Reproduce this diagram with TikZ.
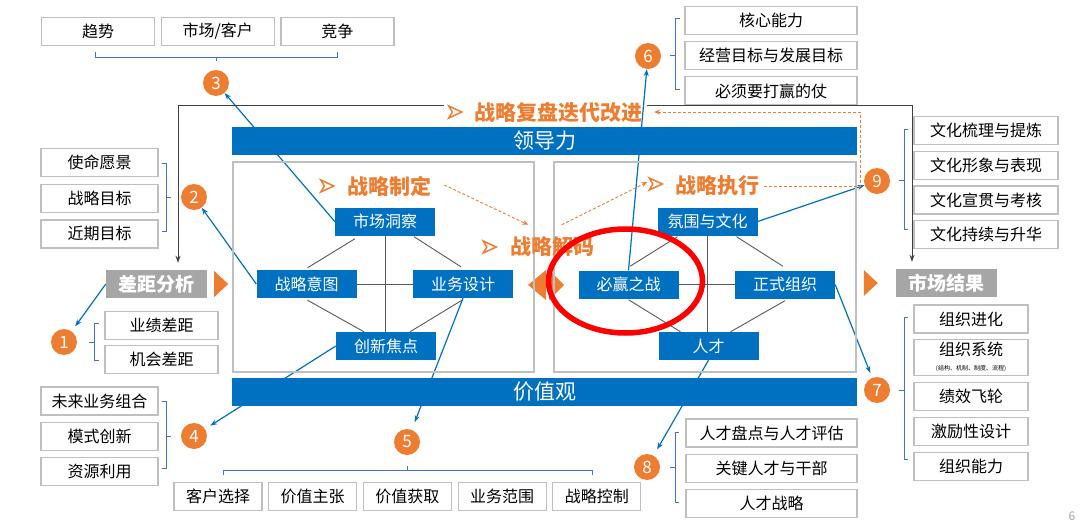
\documentclass[tikz,border=0pt]{standalone}
\usepackage{fontspec}
\setmainfont{Noto Sans CJK SC}
\usetikzlibrary{arrows.meta, positioning, calc, backgrounds}
\definecolor{ppBlue}{HTML}{0070C0}
\definecolor{ppOrange}{HTML}{ED7D31}
\definecolor{ppGray}{HTML}{A6A6A6}
\definecolor{boxLine}{HTML}{BFBFBF}
\definecolor{brkBlue}{HTML}{4472C4}
\definecolor{lineGray}{HTML}{595959}
\definecolor{fbGray}{HTML}{404040}

\begin{document}
\begin{tikzpicture}[x=1pt, y=-1pt, node distance=6pt,
    every node/.style={font=\fontsize{16}{19}\selectfont},
    lbox/.style={draw=boxLine, line width=1.2, fill=white, minimum height=28, inner sep=0},
    bbox/.style={fill=ppBlue, text=white, minimum width=100, minimum height=28, inner sep=0},
    bar/.style={fill=ppBlue, text=white, minimum width=625, minimum height=28, inner sep=0,
      font=\fontsize{21}{24}\selectfont},
    tag/.style={fill=ppGray, text=white, minimum width=101, minimum height=28, inner sep=0,
      font=\bfseries\fontsize{19}{22}\selectfont},
    hdr/.style={text=ppOrange, inner sep=0, font=\bfseries\fontsize{21}{24}\selectfont},
    num/.style={circle, fill=ppOrange, text=white, minimum size=26, inner sep=0,
      font=\fontsize{17}{17}\selectfont},
    panel/.style={draw=boxLine, line width=1.2},
    rib/.style={draw=lineGray, line width=0.9},
    brk/.style={draw=brkBlue, line width=0.8},
    link/.style={draw=ppBlue, line width=1.2, -{Stealth[length=7,width=5]}},
    fb/.style={draw=fbGray, line width=1, -{Stealth[length=7,width=5]}},
    flow/.style={draw=ppOrange, line width=0.9, dash pattern=on 3pt off 2pt,
      -{Stealth[length=6,width=5]}},
    chev/.pic={\draw[ppOrange, line width=1.5, fill=white, line join=miter]
      (-6,-6) -- (7,0) -- (-6,6) -- (-2.5,0) -- cycle;}]
  \useasboundingbox (0,0) rectangle (1080,527);

  % middle triangles and the two panels
  \fill[ppOrange] (546,270) -- (528,285) -- (546,300) -- cycle;
  \fill[ppOrange] (549,270) -- (564,285) -- (549,300) -- cycle;
  \draw[panel] (233,162) rectangle (534,372);
  \draw[panel] (554,162) rectangle (856,372);

  \node[bar] (lead) at (544.5,141) {领导力};
  \node[bar] (vals) at (544.5,392) {价值观};

  % strategy formulation
  \node[bbox] (mkt) at (385,221.5) {市场洞察};
  \node[bbox] (intent) at (306.5,284) {战略意图};
  \node[bbox] (biz) at (463,284) {业务设计};
  \node[bbox] (innov) at (386,346) {创新焦点};
  \draw[rib] ($(mkt.south)+(-30,3)$) -- ($(intent.north)+(1,-2)$);
  \draw[rib] ($(mkt.south)+(29,1)$) -- ($(biz.north)+(-2,-3)$);
  \draw[rib] (mkt.south) -- (mkt.south |- innov.north);
  \draw[rib] (intent.east) -- (biz.west);
  \draw[rib] ($(intent.south)+(1,2)$) -- ($(innov.north)+(-22,0)$);
  \draw[rib] ($(biz.south)+(-1,2)$) -- ($(innov.north)+(24,0)$);

  % strategy execution
  \node[bbox] (culture) at (707.5,221.5) {氛围与文化};
  \node[bbox] (win) at (628.5,284.5) {必赢之战};
  \node[bbox] (org) at (785,284.5) {正式组织};
  \node[bbox] (talent) at (708.5,346) {人才};
  \draw[rib] ($(culture.south)+(-30,1)$) -- ($(win.north)+(1.5,-4)$);
  \draw[rib] ($(culture.south)+(29,1)$) -- ($(org.north)+(-2,-4)$);
  \draw[rib] (culture.south) -- (culture.south |- talent.north);
  \draw[rib] (win.east) -- (org.west);
  \draw[rib] ($(win.south)+(0,1)$) -- ($(talent.north)+(-28,0)$);
  \draw[rib] ($(org.south)+(0,2)$) -- ($(talent.north)+(22,0)$);

  % orange headings
  \node[hdr] (hdef) at (389,186) {战略制定};
  \node[hdr] (hexe) at (717.5,186) {战略执行};
  \node[hdr] (hdec) at (552.5,247) {战略解码};
  \node[hdr] (hrev) at (558,112) {战略复盘迭代改进};
  \pic at ($(hdef.west)+(-20,0)$) {chev};
  \pic at ($(hexe.west)+(-20,-2)$) {chev};
  \pic at ($(hdec.west)+(-21,0)$) {chev};
  \pic at ($(hrev.west)+(-19,0)$) {chev};
  \draw[flow] ($(hdef.east)+(13,-1)$) -- ($(hdec.north west)+(18,-12)$);
  \draw[flow] ($(hdec.north east)+(-33,-12)$) -- ($(hexe.west)+(-28,-4)$);
  \draw[flow] ($(hexe.east)+(4,0)$) -| ($(hrev.east)+(218,0)$) -- ($(hrev.east)+(12,0)$);

  % gap and result
  \node[tag] (gap) at (156.5,284) {差距分析};
  \node[tag] (result) at (946.5,283) {市场结果};
  \fill[ppOrange] ($(gap.east)+(7,-13)$) -- ++(14,13) -- ++(-14,13) -- cycle;
  \fill[ppOrange] ($(result.west)+(-32,-13)$) -- ++(14,13) -- ++(-14,13) -- cycle;
  \draw[fb] ($(hrev.west)+(-30,-6)$) -| ($(gap.north)+(21.5,-7)$);
  \draw[fb] ($(hrev.east)+(5,-6)$) -| ($(result.north)+(-34.5,-7)$);

  % numbered markers
  \node[num] (c1) at (64,342) {1};
  \node[num] (c2) at (194,197) {2};
  \node[num] (c3) at (216,83) {3};
  \node[num] (c4) at (194,436) {4};
  \node[num] (c5) at (407,442) {5};
  \node[num] (c6) at (648,56) {6};
  \node[num] (c7) at (877,390) {7};
  \node[num] (c8) at (647,467) {8};
  \node[num] (c9) at (877,181) {9};

  % 1
  \node[lbox, minimum width=113] (perf) at (161.5,325.5) {业绩差距};
  \node[lbox, minimum width=113, below=5pt of perf] (opp) {机会差距};
  \draw[brk] (99,323) -- (94,323) -- (94,360) -- (99,360) (94,342) -- (89,342);
  % 2
  \node[lbox, minimum width=117] (vis) at (99.5,162.5) {使命愿景};
  \node[lbox, minimum width=117, below=6.5pt of vis] (goal) {战略目标};
  \node[lbox, minimum width=117, below=6.5pt of goal] (near) {近期目标};
  \draw[brk] (162,163) -- (166,163) -- (166,231) -- (162,231) (166,197) -- (171,197);
  % 3
  \node[lbox, minimum width=113] (trend) at (98,31.5) {趋势};
  \node[lbox, minimum width=113, right=5.5pt of trend] (cust) {市场/客户};
  \node[lbox, minimum width=113, right=5.5pt of cust] (comp) {竞争};
  \draw[brk] (95,52) -- (95,57) -- (337,57) -- (337,52) (216,57) -- (216,61);
  % 4
  \node[lbox, minimum width=117] (fut) at (99.5,401) {未来业务组合};
  \node[lbox, minimum width=117, below=of fut] (mode) {模式创新};
  \node[lbox, minimum width=117, below=of mode] (res) {资源利用};
  \draw[brk] (162,401) -- (166,401) -- (166,468) -- (162,468) (166,436) -- (171,436);
  % 5
  \node[lbox, minimum width=88] (csel) at (218,496.5) {客户选择};
  \node[lbox, minimum width=88, right=5.5pt of csel] (vprop) {价值主张};
  \node[lbox, minimum width=88, right=5.5pt of vprop] (vcap) {价值获取};
  \node[lbox, minimum width=88, right=5.5pt of vcap] (scope) {业务范围};
  \node[lbox, minimum width=88, right=5.5pt of scope] (sctl) {战略控制};
  \draw[brk] (223,475) -- (223,470) -- (592,470) -- (592,475) (407,470) -- (407,466);
  % 6
  \node[lbox, minimum width=172] (core) at (771,20.5) {核心能力};
  \node[lbox, minimum width=172, below=of core] (obj) {经营目标与发展目标};
  \node[lbox, minimum width=172, below=of obj] (must) {必须要打赢的仗};
  \draw[brk] (680,18) -- (675,18) -- (675,89) -- (680,89) (675,55) -- (670,55);
  % 7
  \node[lbox, minimum width=114] (evo) at (971,319) {组织进化};
  \node[lbox, minimum width=114, minimum height=36, align=center, below=5pt of evo] (sys)
    {组织系统\\[-4pt]{\fontsize{6}{7}\selectfont (结构、机制、制度、流程)}};
  \node[lbox, minimum width=114, below=of sys] (fly) {绩效飞轮};
  \node[lbox, minimum width=114, below=of fly] (incv) {激励性设计};
  \node[lbox, minimum width=114, below=5.5pt of incv] (cap) {组织能力};
  \draw[brk] (908,317) -- (904,317) -- (904,459) -- (908,459) (904,390) -- (899,390);
  % 8
  \node[lbox, minimum width=171] (tinv) at (771.5,433) {人才盘点与人才评估};
  \node[lbox, minimum width=171, below=of tinv] (tkey) {关键人才与干部};
  \node[lbox, minimum width=171, below=of tkey] (tstr) {人才战略};
  \draw[brk] (679,432) -- (675,432) -- (675,502) -- (679,502) (675,467) -- (670,467);
  % 9
  \node[lbox, minimum width=144] (cul1) at (986,130.5) {文化梳理与提炼};
  \node[lbox, minimum width=144, below=5.5pt of cul1] (cul2) {文化形象与表现};
  \node[lbox, minimum width=144, below=5.5pt of cul2] (cul3) {文化宣贯与考核};
  \node[lbox, minimum width=144, below=5.5pt of cul3] (cul4) {文化持续与升华};
  \draw[brk] (908,129) -- (904,129) -- (904,229) -- (908,229) (904,180) -- (899,180);

  \begin{pgfonlayer}{background}
    \draw[link] (mkt.west) -- (c3);
    \draw[link] (intent.west) -- (c2);
    \draw[link, shorten >=6] (gap.west) -- (c1);
    \draw[link, shorten >=6] (innov.west) -- (c4);
    \draw[link, shorten >=8] (biz.south) -- (c5);
    \draw[link] (win.north) -- (c6);
    \draw[link] (culture.east) -- (c9);
    \draw[link, shorten >=5] (org.east) -- (c7);
    \draw[link, shorten >=7] (talent.south) -- (c8);
  \end{pgfonlayer}

  \draw[red, line width=5.5] (625.5,281) ellipse [x radius=77, y radius=52];
  \node[text=ppGray, font=\fontsize{12}{12}\selectfont] (pg) at (1072,516) {6};
\end{tikzpicture}
\end{document}
